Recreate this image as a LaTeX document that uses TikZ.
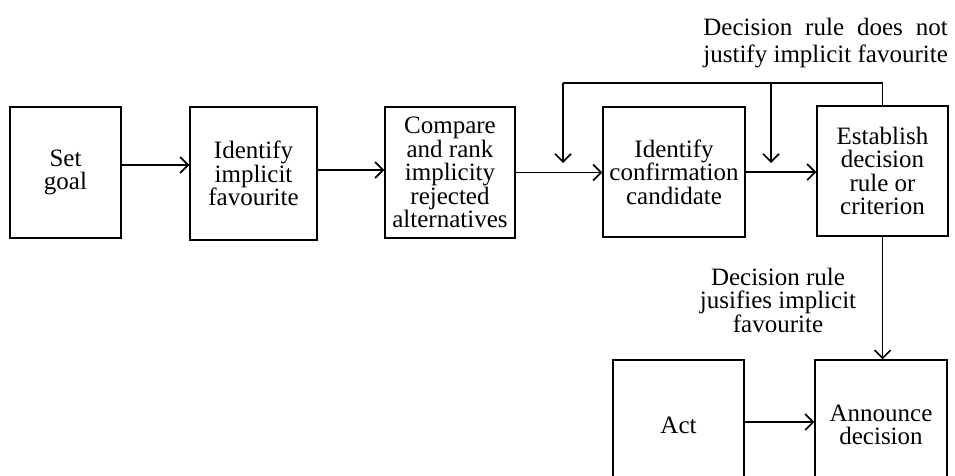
\documentclass[tikz,border=0pt]{standalone}
\usepackage{fontspec}
\setmainfont{Liberation Serif}
\usetikzlibrary{arrows.meta}
\newlength\notew
\begin{document}
\begin{tikzpicture}[x=1pt,y=-1pt,
  stepbox/.style={draw, line width=1.5pt, align=center, inner sep=0pt,
    font=\fontsize{25}{23.5}\selectfont},
  flow/.style={line width=1.6pt,
    -{Straight Barb[length=8pt,width=16pt,line width=1.6pt]}},
  wire/.style={line width=1.6pt},
  note/.style={align=center, inner sep=0pt, font=\fontsize{25}{23.5}\selectfont}]
\clip (0,0) rectangle (955,476);

% main chain of steps
\node[stepbox, minimum width=111, minimum height=131] (goal) at (65.5,172.5) {Set\\goal};
\node[stepbox, minimum width=127, minimum height=133] (fav) at (253.5,173.5) {Identify\\implicit\\favourite};
\node[stepbox, minimum width=130, minimum height=131] (cmp) at (450,172.5) {Compare\\and rank\\implicity\\rejected\\alternatives};
\node[stepbox, minimum width=142, minimum height=130] (cand) at (674,172) {Identify\\confirmation\\candidate};
\node[stepbox, minimum width=131, minimum height=130] (rule) at (882.5,171) {Establish\\decision\\rule or\\criterion};

% lower pair, running off the bottom edge
\node[stepbox, minimum width=131, minimum height=130] (act) at (678.5,425) {Act};
\node[stepbox, minimum width=132, minimum height=130] (ann) at (881,425) {Announce\\decision};

% forward arrows
\draw[flow] ([yshift=7.5pt]goal.east) -- ([yshift=7.5pt]goal.east -| fav.west);
\draw[flow] ([yshift=3.5pt]fav.east) -- ([yshift=3.5pt]fav.east -| cmp.west);
\draw[flow] (cmp.east) -- (cmp.east -| cand.west);
\draw[flow] (cand.east) -- (cand.east -| rule.west);
\draw[flow] ([yshift=3pt]act.east) -- ([yshift=3pt]act.east -| ann.west);

% feedback loop back from the decision rule
\coordinate (loopL) at (563,83);
\coordinate (loopM) at (771,83);
\coordinate (dropL) at (563,163);
\coordinate (dropM) at (771,163);
\draw[wire] (rule.north) |- (loopL);
\draw[flow] (loopL) -- (dropL);
\draw[flow] (loopM) -- (dropM);

% accepted branch
\draw[flow] (rule.south) -- (rule.south |- ann.north);

% labels
\node[note] (yes) at (778,300) {Decision rule\\jusifies implicit\\favourite};
\node[note, align=right, anchor=east, font=\fontsize{25}{27}\selectfont] (no) at (948,43)
  {\settowidth\notew{justify implicit favourite}\makebox[\notew][s]{Decision rule does not}\\justify implicit favourite};
\end{tikzpicture}
\end{document}
